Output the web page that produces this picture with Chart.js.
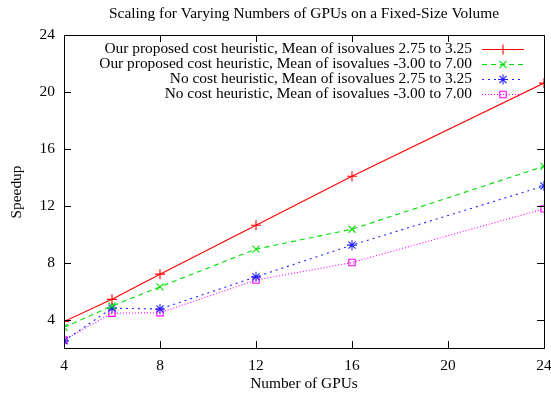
<!DOCTYPE html>
<html><head><meta charset="utf-8">
<script src="https://cdn.jsdelivr.net/npm/chart.js@4"></script>
<style>html,body{margin:0;padding:0;background:#fff}#wrap{width:551px;height:394px}</style>
</head><body><div id="wrap"><canvas id="c" width="551" height="394"></canvas></div>
<script>
const gpus = [4, 6, 8, 12, 16, 24];
const ourNarrow = [3.86, 5.42, 7.19, 10.63, 14.07, 20.62];
const ourWide = [3.45, 4.95, 6.30, 8.95, 10.35, 14.77];
const noNarrow = [2.50, 4.80, 4.74, 7.00, 9.23, 13.39];
const noWide = [2.56, 4.45, 4.48, 6.77, 8.01, 11.78];
const xTicks = [4, 8, 12, 16, 20, 24];
const yTicks = [4, 8, 12, 16, 20, 24];
const seriesLabels = [
  "Our proposed cost heuristic, Mean of isovalues 2.75 to 3.25",
  "Our proposed cost heuristic, Mean of isovalues -3.00 to 7.00",
  "No cost heuristic, Mean of isovalues 2.75 to 3.25",
  "No cost heuristic, Mean of isovalues -3.00 to 7.00"
];
const titleText = "Scaling for Varying Numbers of GPUs on a Fixed-Size Volume";
const xTitle = "Number of GPUs";
const yTitle = "Speedup";

const FONT = "'Liberation Serif', 'DejaVu Serif', serif";
const FSIZE = 15.4;
const styles = [
  {color:'#ff0000', dash:[], point:'cross'},
  {color:'#00e000', dash:[5,4], point:'crossRot'},
  {color:'#2020ff', dash:[2,4], point:'star'},
  {color:'#ff00ff', dash:[1,2], point:'rect'}
];
const allSeries = [ourNarrow, ourWide, noNarrow, noWide];

const datasets = allSeries.map((s, i) => ({
  label: seriesLabels[i],
  data: gpus.map((g, j) => ({x: g, y: s[j]})),
  borderColor: styles[i].color,
  backgroundColor: 'rgba(0,0,0,0)',
  borderWidth: 1.1,
  borderDash: styles[i].dash,
  pointStyle: styles[i].point,
  pointRadius: i === 3 ? 4.5 : 5,
  pointBorderColor: styles[i].color,
  pointBackgroundColor: 'rgba(0,0,0,0)',
  pointBorderWidth: 1.1,
  tension: 0,
  fill: false
}));

const gnuplotPlugin = {
  id: 'gnuplot',
  afterDraw(chart) {
    const ctx = chart.ctx;
    const a = chart.chartArea;
    const xs = chart.scales.x, ys = chart.scales.y;
    ctx.save();
    ctx.strokeStyle = '#000';
    ctx.lineWidth = 1;
    ctx.setLineDash([]);
    ctx.strokeRect(Math.round(a.left)+0.5, Math.round(a.top)+0.5, Math.round(a.right-a.left), Math.round(a.bottom-a.top));
    const tl = 7;
    ctx.beginPath();
    xTicks.forEach(v => {
      const px = Math.round(xs.getPixelForValue(v)) + 0.5;
      ctx.moveTo(px, a.bottom); ctx.lineTo(px, a.bottom - tl);
      ctx.moveTo(px, a.top); ctx.lineTo(px, a.top + tl);
    });
    yTicks.forEach(v => {
      const py = Math.round(ys.getPixelForValue(v)) + 0.5;
      ctx.moveTo(a.left, py); ctx.lineTo(a.left + tl, py);
      ctx.moveTo(a.right, py); ctx.lineTo(a.right - tl, py);
    });
    ctx.stroke();

    ctx.fillStyle = '#000';
    ctx.font = FSIZE + "px " + FONT;
    ctx.textBaseline = 'middle';
    ctx.textAlign = 'center';
    xTicks.forEach(v => ctx.fillText(String(v), xs.getPixelForValue(v), a.bottom + 18));
    ctx.textAlign = 'right';
    yTicks.forEach(v => ctx.fillText(String(v), a.left - 9, ys.getPixelForValue(v)));

    ctx.textAlign = 'center';
    ctx.fillText(titleText, 304, 14);
    ctx.fillText(xTitle, 304, 384);
    ctx.save();
    ctx.translate(17, 192);
    ctx.rotate(-Math.PI/2);
    ctx.fillText(yTitle, 0, 0);
    ctx.restore();

    const textRight = 472, x0 = 482, x1 = 524, rowY0 = 49, rowH = 15;
    chart.data.datasets.forEach((ds, i) => {
      const y = rowY0 + i * rowH;
      ctx.fillStyle = '#000';
      ctx.textAlign = 'right';
      ctx.fillText(ds.label, textRight, y);
      ctx.strokeStyle = ds.borderColor;
      ctx.lineWidth = 1.1;
      ctx.setLineDash(ds.borderDash);
      ctx.beginPath();
      ctx.moveTo(x0, Math.round(y) + 0.5); ctx.lineTo(x1, Math.round(y) + 0.5);
      ctx.stroke();
      ctx.setLineDash([]);
      ctx.fillStyle = 'rgba(0,0,0,0)';
      Chart.helpers.drawPoint(ctx, {pointStyle: ds.pointStyle, radius: ds.pointRadius, rotation: 0, borderWidth: 1.1}, (x0 + x1) / 2, Math.round(y) + 0.5);
    });
    ctx.restore();
  }
};

new Chart(document.getElementById('c'), {
  type: 'line',
  data: {datasets},
  options: {
    responsive: false,
    animation: false,
    devicePixelRatio: 1,
    layout: {padding: {left: 0, right: 7, top: 35, bottom: 0}},
    plugins: {legend: {display: false}, title: {display: false}, tooltip: {enabled: false}},
    scales: {
      x: {
        type: 'linear', min: 4, max: 24,
        afterBuildTicks: s => { s.ticks = xTicks.map(v => ({value: v})); },
        afterFit: s => { s.height = 46; },
        grid: {display: false}, border: {display: false},
        ticks: {display: false}
      },
      y: {
        type: 'linear', min: 2, max: 24,
        afterBuildTicks: s => { s.ticks = yTicks.map(v => ({value: v})); },
        afterFit: s => { s.width = 64; },
        grid: {display: false}, border: {display: false},
        ticks: {display: false}
      }
    }
  },
  plugins: [gnuplotPlugin]
});
</script>
</body></html>
